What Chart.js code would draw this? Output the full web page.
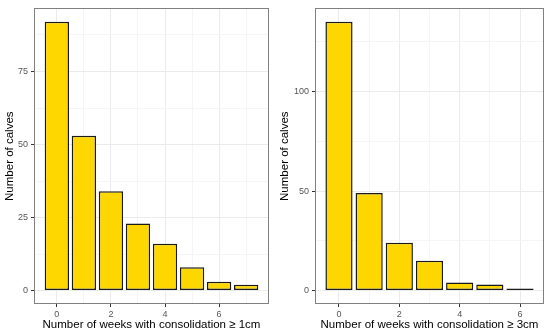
<!DOCTYPE html>
<html lang="en">
<head>
  <meta charset="UTF-8">
  <title>Number of calves by weeks with consolidation</title>
  <script src="https://cdn.jsdelivr.net/npm/chart.js"></script>
  <style>
    html, body { margin: 0; padding: 0; background: #fff; }
    .panel { position: absolute; top: 0; width: 275px; height: 336px; }
  </style>
</head>
<body>
  <div class="panel" style="left:0"><canvas id="chart1cm"></canvas></div>
  <div class="panel" style="left:275px"><canvas id="chart3cm"></canvas></div>

  <script>
    // weeks with consolidation (x) and number of calves (y)
    const weeks1cm = [0, 1, 2, 3, 4, 5, 6, 7];
    const calves1cm = [92, 53, 34, 23, 16, 8, 3, 2];
    const weeks3cm = [0, 1, 2, 3, 4, 5, 6];
    const calves3cm = [135, 49, 24, 15, 4, 3, 1];

    const xTicks = [0, 2, 4, 6];
    const yTicks1cm = [0, 25, 50, 75];
    const yTicks3cm = [0, 50, 100];

    const xTitle1cm = 'Number of weeks with consolidation \u2265 1cm';
    const xTitle3cm = 'Number of weeks with consolidation \u2265 3cm';
    const yTitle = 'Number of calves';

    const FONT = 'Liberation Sans, Arial, sans-serif';

    // major ticks plus the minor ones halfway between (like ggplot)
    function withMinor(major, lo, hi) {
      const step = major[1] - major[0];
      const out = [];
      for (let v = major[0] - step / 2; v <= hi; v += step / 2) {
        if (v >= lo) out.push(v);
      }
      return out;
    }

    const panelBorder = {
      id: 'panelBorder',
      afterDraw(chart) {
        const a = chart.chartArea, ctx = chart.ctx;
        ctx.save();
        ctx.strokeStyle = '#808080';
        ctx.lineWidth = 1;
        ctx.strokeRect(Math.round(a.left) + 0.5, Math.round(a.top) + 0.5,
          Math.round(a.right - a.left) - 1, Math.round(a.bottom - a.top) - 1);
        ctx.restore();
      }
    };

    function makeChart(id, weeks, calves, yMajor, xLabel, yAxisWidth) {
      const xMin = weeks[0] - 0.45, xMax = weeks[weeks.length - 1] + 0.45;
      const xPad = (xMax - xMin) * 0.05;
      const yMax = Math.max(...calves);
      const yPad = yMax * 0.05;
      const isMajor = (list, c) => !!(c && c.tick && list.includes(c.tick.value));

      new Chart(document.getElementById(id), {
        type: 'bar',
        data: {
          datasets: [{
            data: weeks.map((w, i) => ({ x: w, y: calves[i] })),
            backgroundColor: '#FFD700',
            borderColor: '#1a1a1a',
            borderWidth: 1.5,
            borderSkipped: false,
            barPercentage: 0.9,
            categoryPercentage: 1
          }]
        },
        options: {
          responsive: true,
          maintainAspectRatio: false,
          animation: false,
          layout: { padding: { top: 3, right: 6, left: 0, bottom: 0 } },
          plugins: { legend: { display: false }, tooltip: { enabled: false } },
          scales: {
            x: {
              type: 'linear',
              offset: false,
              min: xMin - xPad,
              max: xMax + xPad,
              afterBuildTicks: s => { s.ticks = withMinor(xTicks, s.min, s.max).map(v => ({ value: v })); },
              afterFit: s => { s.height = 32; },
              border: { display: false },
              grid: {
                offset: false,
                color: c => isMajor(xTicks, c) ? '#ebebeb' : '#f5f5f5',
                tickColor: c => isMajor(xTicks, c) ? '#333333' : 'rgba(0,0,0,0)',
                tickLength: 3
              },
              ticks: {
                autoSkip: false,
                maxRotation: 0,
                padding: 2,
                color: '#555555',
                font: { family: FONT, size: 9 },
                callback: v => xTicks.includes(v) ? String(v) : ''
              },
              title: {
                display: true,
                text: xLabel,
                color: '#000000',
                font: { family: FONT, size: 11.5 },
                padding: { top: 0, bottom: 4 }
              }
            },
            y: {
              min: -yPad,
              max: yMax + yPad,
              afterBuildTicks: s => { s.ticks = withMinor(yMajor, s.min, s.max).map(v => ({ value: v })); },
              afterFit: s => { s.width = yAxisWidth; },
              border: { display: false },
              grid: {
                color: c => isMajor(yMajor, c) ? '#ebebeb' : '#f5f5f5',
                tickColor: c => isMajor(yMajor, c) ? '#333333' : 'rgba(0,0,0,0)',
                tickLength: 3
              },
              ticks: {
                autoSkip: false,
                padding: 3,
                color: '#555555',
                font: { family: FONT, size: 9 },
                callback: v => yMajor.includes(v) ? String(v) : ''
              },
              title: {
                display: true,
                text: yTitle,
                color: '#000000',
                font: { family: FONT, size: 11.5 },
                padding: { top: 3, bottom: 0 }
              }
            }
          }
        },
        plugins: [panelBorder]
      });
    }

    makeChart('chart1cm', weeks1cm, calves1cm, yTicks1cm, xTitle1cm, 34);
    makeChart('chart3cm', weeks3cm, calves3cm, yTicks3cm, xTitle3cm, 40);
  </script>
</body>
</html>
